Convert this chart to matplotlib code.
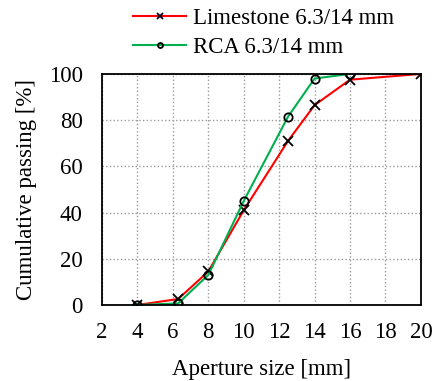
import matplotlib
matplotlib.use("Agg")
import matplotlib.pyplot as plt

# sieve data
aperture_ls = [4, 6.3, 8, 10, 12.5, 14, 16, 20]
passing_ls = [0, 2.6, 14.5, 41, 71, 86.5, 97.5, 100]
aperture_rca = [4, 6.3, 8, 10, 12.5, 14, 16]
passing_rca = [0, 0.7, 13, 45, 81.5, 98, 100]
xticks = list(range(2, 21, 2))
yticks = list(range(0, 101, 20))

plt.rcParams['font.family'] = ['Liberation Serif', 'DejaVu Serif']
plt.rcParams['font.size'] = 16.5

fig = plt.figure(figsize=(4.33, 3.81), dpi=100)
ax = fig.add_axes([0.2356, 0.1995, 0.7364, 0.6065])

ax.plot(aperture_ls, passing_ls, color='#ff0000', lw=1.5, marker='x',
        mec='black', ms=7, mew=1.3, label='Limestone 6.3/14 mm')
ax.plot(aperture_rca, passing_rca, color='#00b050', lw=1.5, marker='o',
        mfc='none', mec='black', ms=6, mew=1.3, label='RCA 6.3/14 mm')

ax.set_xlim(2, 20)
ax.set_ylim(0, 100)
ax.set_xticks(xticks)
ax.set_yticks(yticks)
ax.tick_params(axis='x', length=0, pad=12)
ax.tick_params(axis='y', length=0, pad=14)
ax.grid(True, linestyle=':', color='#999999', lw=1)
for s in ax.spines.values():
    s.set_linewidth(1.3)

ax.set_xlabel('Aperture size [mm]', labelpad=12)
ax.set_ylabel('Cumulative passing [%]', labelpad=8)

ax.legend(loc='lower left', bbox_to_anchor=(0.055, 1.01), frameon=False,
          handlelength=2.3, borderpad=0.1, labelspacing=0.35,
          handletextpad=0.3, markerscale=0.6)

fig.savefig('out.png', dpi=100)
